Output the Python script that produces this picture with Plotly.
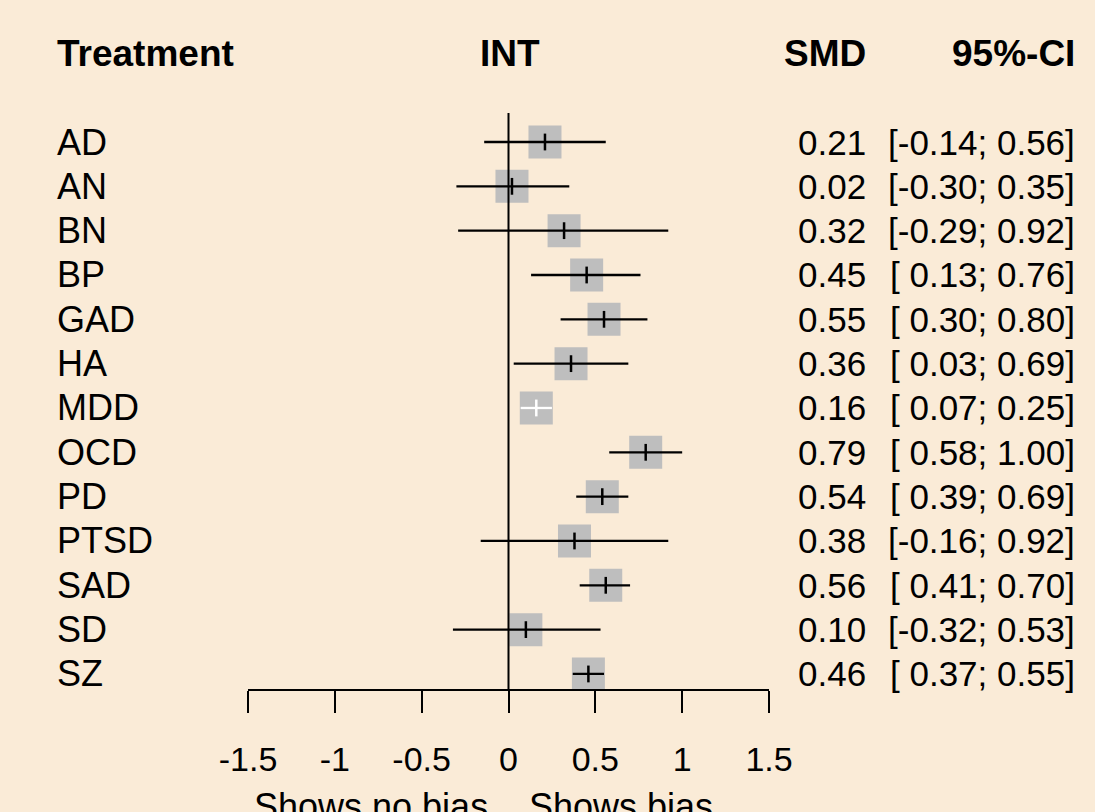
import plotly.graph_objects as go

# ---- data ----
treatments = ["AD", "AN", "BN", "BP", "GAD", "HA", "MDD", "OCD", "PD", "PTSD", "SAD", "SD", "SZ"]
smd = [0.21, 0.02, 0.32, 0.45, 0.55, 0.36, 0.16, 0.79, 0.54, 0.38, 0.56, 0.10, 0.46]
ci_lower = [-0.14, -0.30, -0.29, 0.13, 0.30, 0.03, 0.07, 0.58, 0.39, -0.16, 0.41, -0.32, 0.37]
ci_upper = [0.56, 0.35, 0.92, 0.76, 0.80, 0.69, 0.25, 1.00, 0.69, 0.92, 0.70, 0.53, 0.55]
tick_vals = [-1.5, -1, -0.5, 0, 0.5, 1, 1.5]
tick_text = ["-1.5", "-1", "-0.5", "0", "0.5", "1", "1.5"]
header_labels = ["Treatment", "INT", "SMD", "95%-CI"]
label_left = "Shows no bias"
label_right = "Shows bias"
white_ci = {"MDD"}  # CI fits inside the square -> drawn in white

# ---- styling ----
W, H = 1095, 812
BG = "#FAEBD7"
FONT = "Liberation Sans, Arial, Helvetica, sans-serif"
FS_HDR, FS_LAB, FS_NUM, FS_TICK = 37, 36, 35, 34
L_PX, R_PX, T_PX, B_PX = 248, 769, 100, 689
ROW0_PX, ROW_STEP = 142, 44.33


def px_x(p):
    return (p - L_PX) / (R_PX - L_PX)


def px_y(p):
    return (B_PX - p) / (B_PX - T_PX)


y_top = (T_PX - ROW0_PX) / ROW_STEP
y_bot = (B_PX - ROW0_PX) / ROW_STEP
rows = list(range(len(treatments)))

fig = go.Figure()

# squares
fig.add_trace(go.Scatter(
    x=smd, y=rows, mode="markers",
    marker=dict(symbol="square", size=33, color="#BEBEBE", line=dict(width=0)),
    hoverinfo="skip", showlegend=False))

# CI lines + estimate ticks
for colr, sel in (("black", False), ("white", True)):
    xs, ys, xm, ym = [], [], [], []
    for i, t in enumerate(treatments):
        if (t in white_ci) != sel:
            continue
        xs += [ci_lower[i], ci_upper[i], None]
        ys += [i, i, None]
        xm.append(smd[i])
        ym.append(i)
    if not xm:
        continue
    fig.add_trace(go.Scatter(x=xs, y=ys, mode="lines",
                             line=dict(color=colr, width=2.3),
                             hoverinfo="skip", showlegend=False))
    fig.add_trace(go.Scatter(x=xm, y=ym, mode="markers",
                             marker=dict(symbol="line-ns", size=12,
                                         line=dict(color=colr, width=2.5)),
                             hoverinfo="skip", showlegend=False))

# zero line
fig.add_shape(type="line", xref="x", yref="y", x0=0, x1=0,
              y0=(113 - ROW0_PX) / ROW_STEP, y1=y_bot,
              line=dict(color="black", width=2))

# text columns
ann = []
for txt, xp, anc in zip(header_labels, [55, 510, 868, 1077], ["left", "center", "right", "right"]):
    ann.append(dict(x=px_x(xp), y=px_y(54), xref="paper", yref="paper", text=txt,
                    showarrow=False, xanchor=anc, yanchor="middle",
                    font=dict(family=FONT, size=FS_HDR, color="black", weight="bold")))


def fmt(v):
    s = f"{v:.2f}"
    return ("\u00a0" + s) if v >= 0 else s


for i, t in enumerate(treatments):
    ann.append(dict(x=px_x(55), y=i, xref="paper", yref="y", text=t,
                    showarrow=False, xanchor="left", yanchor="middle",
                    font=dict(family=FONT, size=FS_LAB, color="black")))
    ann.append(dict(x=px_x(868), y=i, xref="paper", yref="y", text=f"{smd[i]:.2f}",
                    showarrow=False, xanchor="right", yanchor="middle",
                    font=dict(family=FONT, size=FS_NUM, color="black")))
    ann.append(dict(x=px_x(1077), y=i, xref="paper", yref="y",
                    text=f"[{fmt(ci_lower[i])}; {ci_upper[i]:.2f}]",
                    showarrow=False, xanchor="right", yanchor="middle",
                    font=dict(family=FONT, size=FS_NUM, color="black")))

ann.append(dict(x=px_x(490), y=px_y(806), xref="paper", yref="paper", text=label_left,
                showarrow=False, xanchor="right", yanchor="middle",
                font=dict(family=FONT, size=FS_LAB, color="black")))
ann.append(dict(x=px_x(527), y=px_y(806), xref="paper", yref="paper", text=label_right,
                showarrow=False, xanchor="left", yanchor="middle",
                font=dict(family=FONT, size=FS_LAB, color="black")))

fig.update_layout(
    width=W, height=H,
    margin=dict(l=L_PX, r=W - R_PX, t=T_PX, b=H - B_PX, pad=0),
    paper_bgcolor=BG, plot_bgcolor=BG,
    annotations=ann,
    xaxis=dict(range=[-1.5, 1.5], showgrid=False, zeroline=False,
               showline=True, linecolor="black", linewidth=2,
               ticks="outside", ticklen=22, tickwidth=2, tickcolor="black",
               tickvals=tick_vals, ticktext=tick_text,
               tickfont=dict(family=FONT, size=FS_TICK, color="black"),
               ticklabelstandoff=17, fixedrange=True),
    yaxis=dict(range=[y_bot, y_top], visible=False, fixedrange=True),
)

fig.write_html("out.html", config={"displayModeBar": False},
               post_script="document.body.style.margin='0';document.body.style.overflow='hidden';")
